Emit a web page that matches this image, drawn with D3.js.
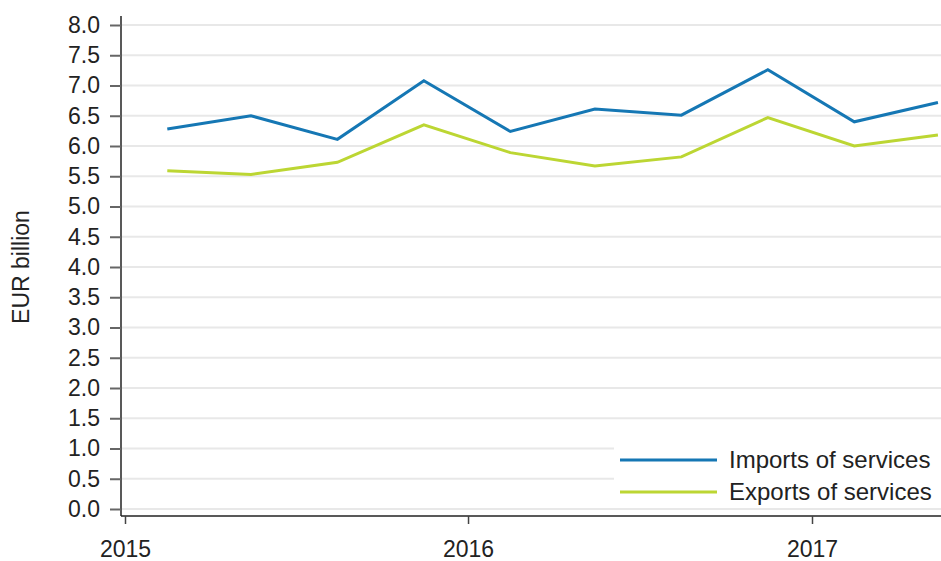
<!DOCTYPE html>
<html>
<head>
<meta charset="utf-8">
<script src="https://cdn.jsdelivr.net/npm/d3@7"></script>
<style>
  body { margin: 0; background: #fff; }
  svg text { font-family: Arial, "Liberation Sans", sans-serif; fill: #222; }
</style>
</head>
<body>
<svg id="chart" width="941" height="561"></svg>
<script>
const quarters = ["2015Q1", "2015Q2", "2015Q3", "2015Q4", "2016Q1", "2016Q2", "2016Q3", "2016Q4", "2017Q1", "2017Q2"];
const imports = [6.28, 6.50, 6.11, 7.08, 6.24, 6.61, 6.51, 7.26, 6.40, 6.72];
const exports = [5.59, 5.53, 5.73, 6.35, 5.89, 5.67, 5.82, 6.47, 6.00, 6.18];
const seriesNames = ["Imports of services", "Exports of services"];
const colors = ["#1577b4", "#bcd633"];
const yTicks = d3.range(0, 8.01, 0.5);
const years = [2015, 2016, 2017];

// mid-point date of each quarter
const parseQ = q => {
    const yr = +q.slice(0, 4), k = +q.slice(5) - 1;
    return new Date(yr, k * 3 + 1, 15);
};

const svg = d3.select("#chart");
const plotLeft = 122, plotRight = 941, plotTop = 25, plotBottom = 509, axisY = 516;
const fontSize = "23px";

const x = d3.scaleTime()
    .domain([new Date(2015, 0, 1), new Date(2017, 0, 1)])
    .range([125, 812]);

const y = d3.scaleLinear().domain([0, 8]).range([plotBottom, plotTop]);

// gridlines
svg.append("g").selectAll("line")
    .data(yTicks)
    .join("line")
    .attr("x1", plotLeft)
    .attr("x2", plotRight)
    .attr("y1", d => y(d))
    .attr("y2", d => y(d))
    .attr("stroke", "#e8e8e8")
    .attr("stroke-width", 2);

// y axis
const yAxis = svg.append("g")
    .attr("transform", `translate(${plotLeft - 1},0)`)
    .call(d3.axisLeft(y).tickValues(yTicks).tickFormat(d3.format(".1f")).tickSize(11).tickPadding(10));
yAxis.select(".domain").attr("d", `M0,${y(8) - 9}V${axisY}`).attr("stroke", "#222").attr("stroke-width", 1.5);
yAxis.selectAll(".tick line").attr("stroke", "#666").attr("stroke-width", 2);
yAxis.selectAll("text").style("font-size", fontSize).attr("fill", "#222");

svg.append("text")
    .attr("transform", `translate(29,${(plotTop + plotBottom) / 2}) rotate(-90)`)
    .attr("text-anchor", "middle")
    .style("font-size", fontSize)
    .text("EUR billion");

// lines
const data = [imports, exports].map((vals, i) => ({
    name: seriesNames[i],
    color: colors[i],
    values: vals.map((v, j) => ({ date: parseQ(quarters[j]), value: v }))
}));

const line = d3.line().x(d => x(d.date)).y(d => y(d.value));

svg.append("defs").append("clipPath").attr("id", "clip")
    .append("rect").attr("x", plotLeft).attr("y", 0).attr("width", plotRight - plotLeft).attr("height", axisY);

svg.append("g").attr("clip-path", "url(#clip)")
    .selectAll("path")
    .data(data.slice().reverse())
    .join("path")
    .attr("d", d => line(d.values))
    .attr("fill", "none")
    .attr("stroke", d => d.color)
    .attr("stroke-width", 3);

// legend with white backing
const lg = svg.append("g");
lg.append("rect")
    .attr("x", 614).attr("y", 442).attr("width", 327).attr("height", 63)
    .attr("fill", "#fff");
data.forEach((d, i) => {
    const ly = 460 + i * 32;
    lg.append("line")
        .attr("x1", 620).attr("x2", 717).attr("y1", ly).attr("y2", ly)
        .attr("stroke", d.color).attr("stroke-width", 3);
    lg.append("text")
        .attr("x", 729).attr("y", ly + 8)
        .style("font-size", "24px")
        .text(d.name);
});

// x axis
const xAxis = svg.append("g")
    .attr("transform", `translate(0,${axisY})`)
    .call(d3.axisBottom(x).tickValues(years.map(yr => new Date(yr, 0, 1)))
        .tickFormat(d3.timeFormat("%Y")).tickSize(8).tickPadding(17));
xAxis.select(".domain").attr("d", `M${plotLeft - 1},0H${plotRight}`).attr("stroke", "#222").attr("stroke-width", 1.5);
xAxis.selectAll(".tick line").attr("stroke", "#444").attr("stroke-width", 1.5);
xAxis.selectAll("text").style("font-size", fontSize).attr("fill", "#222");
</script>
</body>
</html>
